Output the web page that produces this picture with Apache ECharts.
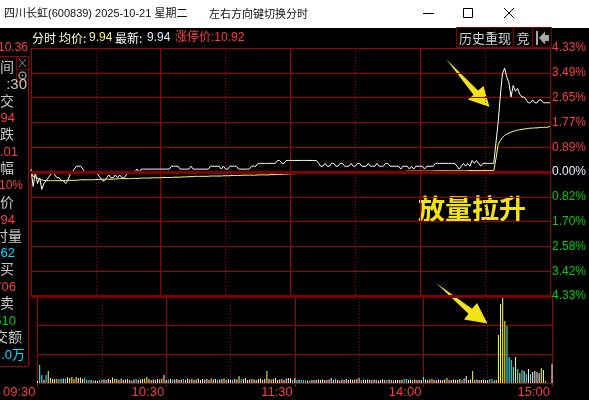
<!DOCTYPE html>
<html><head><meta charset="utf-8">
<script src="https://cdn.jsdelivr.net/npm/echarts@6/dist/echarts.min.js"></script>
<style>html,body{margin:0;padding:0;background:#000;}#c{width:589px;height:400px;}</style>
</head><body><div id="c"></div>
<script>
const prevClose = 9.93;
const timeTickIdx = [0, 60, 120, 180, 240];
const timeTickLabels = ['09:30', '10:30', '11:30', '14:00', '15:00'];
const pctLabels = ['4.33%','3.49%','2.65%','1.77%','0.89%','0.00%','0.82%','1.70%','2.58%','3.42%','4.33%'];

const prices = [
9.94,9.88,9.93,9.89,9.91,9.87,9.89,9.90,9.91,9.92,
9.93,9.92,9.91,9.91,9.90,9.90,9.89,9.90,9.92,9.93,
9.94,9.95,9.95,9.95,9.94,9.93,9.93,9.93,9.93,9.93,
9.93,9.92,9.91,9.90,9.90,9.91,9.92,9.91,9.91,9.92,
9.91,9.92,9.91,9.91,9.92,9.93,9.93,9.93,9.93,9.94,
9.93,9.94,9.94,9.94,9.94,9.94,9.94,9.94,9.94,9.94,
9.94,9.94,9.94,9.94,9.94,9.95,9.95,9.95,9.95,9.94,
9.94,9.94,9.94,9.94,9.95,9.94,9.94,9.94,9.94,9.94,
9.94,9.94,9.94,9.95,9.95,9.95,9.95,9.95,9.94,9.95,
9.94,9.94,9.95,9.95,9.95,9.95,9.94,9.94,9.94,9.94,
9.94,9.94,9.95,9.95,9.95,9.96,9.96,9.96,9.96,9.96,
9.96,9.96,9.96,9.96,9.97,9.97,9.96,9.96,9.97,9.97,
9.97,9.97,9.97,9.97,9.97,9.97,9.97,9.97,9.97,9.97,
9.97,9.97,9.97,9.96,9.95,9.95,9.96,9.95,9.95,9.96,
9.96,9.95,9.95,9.96,9.96,9.95,9.95,9.95,9.96,9.95,
9.95,9.96,9.96,9.95,9.95,9.95,9.96,9.95,9.95,9.95,
9.96,9.95,9.95,9.95,9.96,9.96,9.95,9.95,9.95,9.95,
9.95,9.94,9.95,9.95,9.95,9.94,9.95,9.94,9.95,9.95,
9.95,9.95,9.94,9.95,9.95,9.95,9.95,9.96,9.96,9.96,
9.96,9.96,9.96,9.96,9.96,9.96,9.96,9.95,9.94,9.95,
9.96,9.95,9.96,9.95,9.97,9.96,9.97,9.96,9.95,9.96,
9.96,9.96,9.96,9.96,9.96,10.03,10.10,10.19,10.27,10.29,
10.26,10.24,10.19,10.23,10.21,10.22,10.20,10.19,10.19,10.18,
10.17,10.17,10.18,10.17,10.17,10.18,10.18,10.17,10.17,10.17,10.17
];

const avgPrices = [
9.930,9.915,9.913,9.908,9.905,9.902,9.901,9.900,9.900,9.900,
9.900,9.900,9.900,9.900,9.900,9.900,9.901,9.901,9.901,9.901,
9.901,9.901,9.902,9.903,9.903,9.903,9.903,9.903,9.903,9.903,
9.904,9.904,9.905,9.905,9.905,9.905,9.905,9.905,9.905,9.906,
9.906,9.907,9.907,9.907,9.907,9.907,9.907,9.908,9.908,9.908,
9.908,9.909,9.909,9.909,9.909,9.909,9.910,9.910,9.910,9.910,
9.910,9.911,9.911,9.911,9.911,9.911,9.912,9.912,9.912,9.912,
9.913,9.913,9.913,9.914,9.914,9.914,9.915,9.915,9.915,9.915,
9.915,9.915,9.915,9.916,9.916,9.916,9.916,9.916,9.916,9.917,
9.917,9.917,9.917,9.918,9.918,9.918,9.918,9.918,9.919,9.919,
9.919,9.919,9.919,9.919,9.919,9.920,9.920,9.920,9.920,9.920,
9.920,9.921,9.921,9.921,9.922,9.922,9.922,9.923,9.923,9.923,
9.924,9.924,9.924,9.925,9.925,9.925,9.925,9.926,9.926,9.926,
9.926,9.927,9.927,9.927,9.927,9.928,9.928,9.928,9.928,9.928,
9.929,9.929,9.929,9.929,9.929,9.930,9.930,9.930,9.930,9.930,
9.930,9.930,9.931,9.931,9.931,9.931,9.931,9.931,9.931,9.931,
9.931,9.932,9.932,9.932,9.932,9.932,9.932,9.932,9.932,9.932,
9.932,9.932,9.932,9.932,9.933,9.933,9.933,9.933,9.933,9.933,
9.933,9.933,9.933,9.933,9.933,9.933,9.933,9.934,9.934,9.934,
9.934,9.934,9.934,9.934,9.934,9.934,9.934,9.934,9.934,9.934,
9.934,9.934,9.934,9.935,9.935,9.935,9.935,9.935,9.935,9.935,
9.935,9.935,9.935,9.935,9.935,9.975,10.024,10.039,10.049,10.057,
10.061,10.065,10.068,10.071,10.073,10.075,10.077,10.078,10.079,10.080,
10.081,10.082,10.082,10.083,10.083,10.084,10.084,10.085,10.085,10.085,10.089
];

const volumes = [
20,180,80,30,80,120,50,40,40,40,
40,45,45,40,55,50,60,40,60,50,
55,40,50,30,30,30,25,25,20,30,
35,35,30,40,30,55,40,40,30,45,
30,35,40,30,25,35,40,30,35,40,
45,60,40,30,35,30,40,35,45,80,
30,35,40,30,35,40,30,35,40,30,
45,35,40,30,35,45,30,40,35,40,
30,45,35,40,30,35,40,45,30,40,
35,30,40,35,70,35,40,50,30,35,
40,35,30,40,45,30,40,120,40,35,
40,50,30,35,40,30,45,50,45,30,
50,30,35,30,30,25,25,25,30,30,
30,35,30,35,30,30,35,50,30,40,
30,25,35,30,40,30,35,30,35,40,
50,30,35,30,35,30,30,35,30,25,
30,35,30,30,35,30,25,30,30,30,
30,40,40,30,35,30,35,30,30,30,
60,35,30,35,40,30,30,35,30,30,
35,50,30,30,35,30,30,40,30,45,
70,30,35,120,30,35,30,30,35,30,
30,40,40,25,30,480,790,870,620,570,
260,230,160,260,140,100,130,120,90,140,
90,110,120,110,100,150,130,20,0,0,190
];

const volColorCodes =
'wccwcywywy'+'ccwcwyyyyw'+'ywcccwcwwc'+'cwwwwyywyw'+'wwywwwcwww'+'yywwwwwwyw'+
'wcwcwwwwcw'+'wwywwwwwww'+'wywwcwwyww'+'wcwwycwwww'+'ywwwywwywy'+'wywwywwwwc'+
'wcwcccwcww'+'wwwwwwwwwc'+'wwwwwwwwww'+'ycwwwwwwww'+'wwwcwwwwww'+'wccwwywwww'+
'cwwwywwwww'+'wywwwwwwcw'+'wwwywwwwww'+'wccwwyyyyc'+'cccycycwcw'+'cwwwwyycwww';

const VOL_MAX = 870;

const GRID_THIN = '#a00000';
const GRID_THICK = '#800000';
const RED = '#ff3c3c';
const GREEN = '#00d000';
const CYAN = '#00e0ff';
const GRAY = '#c8c8c8';
const ARROW = '#f2e414';
const CJK = '"Noto Sans CJK SC"';
const NUM = '"Liberation Sans", "Noto Sans CJK SC"';
const volColorMap = { w: '#ffffff', c: '#40ffff', y: '#ffff60' };

const pricePct = prices.map((p, i) => [i, (p / prevClose - 1) * 100]);
const avgPct = avgPrices.map((p, i) => [i, (p / prevClose - 1) * 100]);
const volData = volumes.map((v, i) => ({ value: [i, v], itemStyle: { color: volColorMap[volColorCodes[i]] } }));

const chart = echarts.init(document.getElementById('c'), null, { renderer: 'canvas', devicePixelRatio: 1 });

function xAx(grid, interval, dotted, labels) {
  return {
    type: 'value', gridIndex: grid, position: 'bottom', min: 0, max: 240, interval: interval,
    axisLine: { show: labels, lineStyle: { color: GRID_THIN, width: 1 } },
    axisTick: { show: labels, length: 4, lineStyle: { color: GRID_THIN } },
    axisLabel: {
      show: labels, color: RED, fontSize: 13, fontFamily: NUM, align: 'right', margin: 3,
      padding: [0, 2, 0, 0],
      formatter: v => { const k = timeTickIdx.indexOf(Math.round(v)); return k >= 0 ? timeTickLabels[k] : ''; }
    },
    splitLine: { show: true, lineStyle: { color: GRID_THIN, width: 1, type: dotted ? [1, 2] : 'solid' } }
  };
}

// visible part of the clipped info panel: [text, x, y, align, colour, fontSize]
const leftPanel = [
  ['间', 0, 68, 'left', GRAY, 14], [':30', 27, 85, 'right', GRAY, 15],
  ['交', 0, 102, 'left', GRAY, 14], ['94', 15, 118, 'right', RED, 13],
  ['跌', 0, 135, 'left', GRAY, 14], ['.01', 18, 152, 'right', RED, 13],
  ['幅', 0, 169, 'left', GRAY, 14], ['10%', 23, 186, 'right', RED, 12],
  ['价', 0, 203, 'left', GRAY, 14], ['94', 15, 220, 'right', RED, 13],
  ['时量', 22, 237, 'right', GRAY, 14], ['62', 15, 253, 'right', CYAN, 13],
  ['买', 0, 270, 'left', GRAY, 14], ['706', 16, 287, 'right', RED, 13],
  ['卖', 0, 304, 'left', GRAY, 14], ['510', 16, 321, 'right', GREEN, 13],
  ['交额', 22, 338, 'right', GRAY, 14], ['.0万', 25, 355, 'right', CYAN, 13]
];

const graphics = [
  { type: 'rect', shape: { x: 0, y: 0, width: 589, height: 28 }, style: { fill: '#ffffff' } },
  { type: 'text', x: 4, y: 14, style: { text: '四川长虹(600839) 2025-10-21 星期二', fill: '#111', font: '11px ' + NUM, verticalAlign: 'middle' } },
  { type: 'text', x: 209, y: 14, style: { text: '左右方向键切换分时', fill: '#111', font: '11px ' + CJK, verticalAlign: 'middle' } },
  { type: 'line', shape: { x1: 423, y1: 13.5, x2: 434, y2: 13.5 }, style: { stroke: '#000', lineWidth: 1 } },
  { type: 'rect', shape: { x: 463.5, y: 8.5, width: 9, height: 9 }, style: { fill: 'none', stroke: '#000', lineWidth: 1 } },
  { type: 'line', shape: { x1: 504, y1: 8, x2: 514, y2: 18 }, style: { stroke: '#000', lineWidth: 1 } },
  { type: 'line', shape: { x1: 514, y1: 8, x2: 504, y2: 18 }, style: { stroke: '#000', lineWidth: 1 } },

  // header info
  { type: 'text', x: 32, y: 38, style: { text: '分时', fill: '#ffffd0', font: '12px ' + CJK, verticalAlign: 'middle' } },
  { type: 'text', x: 59, y: 38, style: { text: '均价:', fill: '#ffffd0', font: '12px ' + CJK, verticalAlign: 'middle' } },
  { type: 'text', x: 89, y: 38, style: { text: '9.94', fill: '#f0f080', font: '12px ' + NUM, verticalAlign: 'middle' } },
  { type: 'text', x: 115, y: 38, style: { text: '最新:', fill: '#ffffff', font: '12px ' + CJK, verticalAlign: 'middle' } },
  { type: 'text', x: 147, y: 38, style: { text: '9.94', fill: '#e0ecff', font: '12px ' + NUM, verticalAlign: 'middle' } },
  { type: 'text', x: 175, y: 38, style: { text: '涨停价:10.92', fill: RED, font: '12px ' + NUM, verticalAlign: 'middle' } },

  // buttons
  { type: 'rect', shape: { x: 456.5, y: 27.5, width: 57, height: 20 }, style: { fill: 'none', stroke: GRID_THICK, lineWidth: 1 } },
  { type: 'rect', shape: { x: 513.5, y: 27.5, width: 19, height: 20 }, style: { fill: 'none', stroke: GRID_THICK, lineWidth: 1 } },
  { type: 'rect', shape: { x: 532.5, y: 27.5, width: 19, height: 20 }, style: { fill: 'none', stroke: GRID_THICK, lineWidth: 1 } },
  { type: 'text', x: 485, y: 38, style: { text: '历史重现', fill: '#d0d0d0', font: '13px ' + CJK, align: 'center', verticalAlign: 'middle' } },
  { type: 'text', x: 523, y: 38, style: { text: '竞', fill: '#d0d0d0', font: '13px ' + CJK, align: 'center', verticalAlign: 'middle' } },
  { type: 'rect', shape: { x: 536, y: 31, width: 2, height: 14 }, style: { fill: '#a8a8a8' } },
  { type: 'polygon', shape: { points: [[539, 38], [545, 31.5], [545, 35], [549, 35], [549, 41], [545, 41], [545, 44.5]] }, style: { fill: '#a8a8a8' } },

  // left panel frame
  { type: 'text', x: 28, y: 48, style: { text: '10.36', fill: RED, font: '12px ' + NUM, align: 'right', verticalAlign: 'middle' } },
  { type: 'polyline', shape: { points: [[0, 56.5], [28.5, 56.5], [28.5, 366.5], [0, 366.5]] }, style: { fill: 'none', stroke: GRID_THIN, lineWidth: 1 } },
  { type: 'polyline', shape: { points: [[16.5, 57], [16.5, 81.5], [28, 81.5]] }, style: { fill: 'none', stroke: GRID_THICK, lineWidth: 1 } },
  { type: 'line', shape: { x1: 16.5, y1: 69.5, x2: 28, y2: 69.5 }, style: { stroke: GRID_THICK, lineWidth: 1 } },
  { type: 'line', shape: { x1: 19, y1: 59, x2: 26, y2: 67 }, style: { stroke: '#909090', lineWidth: 1 } },
  { type: 'line', shape: { x1: 26, y1: 59, x2: 19, y2: 67 }, style: { stroke: '#909090', lineWidth: 1 } },
  { type: 'circle', shape: { cx: 22.5, cy: 75.5, r: 3.5 }, style: { fill: 'none', stroke: '#909090', lineWidth: 1.5 } },
  { type: 'circle', shape: { cx: 22.5, cy: 75.5, r: 1 }, style: { fill: '#909090' } },

  // annotations
  { type: 'polygon', shape: { points: [[446, 59], [478, 90.5], [483.5, 86], [489.5, 107], [468, 99.5], [473.5, 94.7]] }, style: { fill: ARROW } },
  { type: 'polygon', shape: { points: [[436, 283], [472, 308.8], [477, 303], [487.5, 323.5], [464, 319.5], [468.5, 313.8]] }, style: { fill: ARROW } },
  { type: 'text', x: 472, y: 209, style: { text: '放量拉升', fill: ARROW, font: 'bold 27px ' + CJK, align: 'center', verticalAlign: 'middle' } }
];
leftPanel.forEach(([t, x, y, al, col, fs]) => {
  graphics.push({ type: 'text', x: x, y: y, style: { text: t, fill: col, font: fs + 'px ' + NUM, align: al, verticalAlign: 'middle' } });
});

const option = {
  backgroundColor: '#000',
  animation: false,
  grid: [
    { left: 31, right: 37, top: 48, height: 248 },
    { left: 31, right: 37, top: 296, height: 87 }
  ],
  xAxis: [xAx(0, 30, true, false), xAx(0, 60, false, false), xAx(1, 30, true, false), xAx(1, 60, false, true)],
  yAxis: [
    {
      type: 'value', gridIndex: 0, position: 'right', min: -4.33, max: 4.33, interval: 0.866,
      axisLine: { show: false }, axisTick: { show: false },
      splitLine: { show: true, lineStyle: { color: GRID_THIN, width: 1 } },
      axisLabel: {
        margin: 2, fontSize: 12, fontFamily: NUM,
        formatter: v => {
          const k = Math.round((4.33 - v) / 0.866);
          const t = pctLabels[k] || '';
          return k < 5 ? '{r|' + t + '}' : (k === 5 ? '{w|' + t + '}' : '{g|' + t + '}');
        },
        rich: {
          r: { color: RED, fontSize: 12, fontFamily: NUM },
          w: { color: '#e6f0ff', fontSize: 12, fontFamily: NUM },
          g: { color: GREEN, fontSize: 12, fontFamily: NUM }
        }
      }
    },
    {
      type: 'value', gridIndex: 1, position: 'right', min: 0, max: VOL_MAX, interval: VOL_MAX / 3,
      axisLine: { show: false }, axisTick: { show: false }, axisLabel: { show: false },
      splitLine: { show: true, lineStyle: { color: GRID_THIN, width: 1 } }
    }
  ],
  series: [
    {
      type: 'line', xAxisIndex: 0, yAxisIndex: 0, data: [], z: 1, silent: true,
      markLine: {
        silent: true, symbol: 'none', label: { show: false },
        lineStyle: { color: GRID_THICK, width: 3, type: 'solid' },
        data: [{ yAxis: 0 }, { yAxis: -4.33 }]
      }
    },
    {
      name: '均价', type: 'line', xAxisIndex: 0, yAxisIndex: 0, data: avgPct, z: 3,
      showSymbol: false, symbol: 'none', lineStyle: { color: '#ffff70', width: 1 }
    },
    {
      name: '价格', type: 'line', xAxisIndex: 0, yAxisIndex: 0, data: pricePct, z: 4,
      showSymbol: false, symbol: 'none', lineStyle: { color: '#ffffff', width: 1 }
    },
    {
      name: '成交量', type: 'bar', xAxisIndex: 2, yAxisIndex: 1, data: volData, barWidth: 1, z: 3
    }
  ],
  graphic: { elements: graphics }
};
chart.setOption(option);
</script></body></html>
